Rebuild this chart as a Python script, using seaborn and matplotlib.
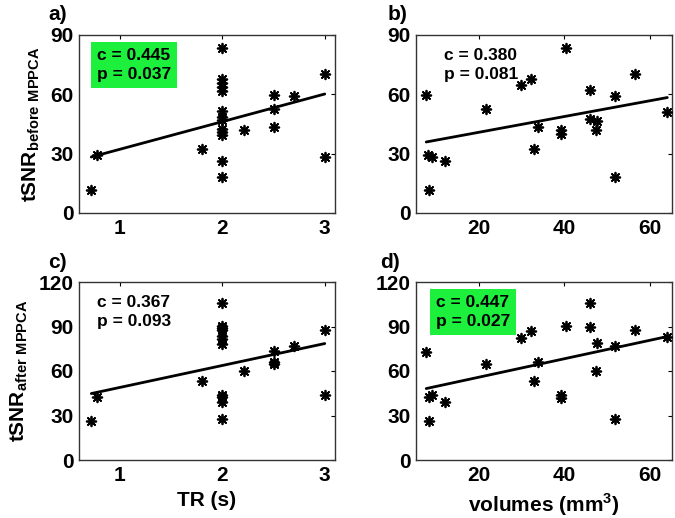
import matplotlib
matplotlib.use('Agg')
import matplotlib.pyplot as plt
import seaborn as sns
import numpy as np

# values
# panel a: TR vs tSNR before MPPCA
tr_a = [0.72, 0.78, 1.80, 2, 2, 2, 2, 2, 2, 2, 2, 2, 2, 2, 2, 2,
        2.21, 2.5, 2.5, 2.5, 2.7, 3, 3]
snr_a = [11.8, 29.2, 32.6, 83.6, 67.6, 65.9, 63.9, 61.8, 51.5, 48.6, 47.0, 42.7,
         41.0, 39.4, 26.4, 18.4, 42.2, 59.5, 52.5, 43.4, 59.0, 70.1, 28.4]

# panel b: volume vs tSNR before MPPCA
vol_b = [7.6, 8.0, 9.0, 8.2, 12.0, 21.6, 29.9, 32.1, 32.8, 33.8, 39.2, 39.2,
         40.4, 46.0, 45.9, 47.6, 47.5, 51.9, 51.9, 56.5, 64.1]
snr_b = [59.5, 29.4, 28.4, 11.8, 26.5, 52.4, 64.7, 67.6, 32.6, 43.4, 42.2, 39.7,
         83.6, 62.2, 47.6, 46.5, 42.2, 59.0, 18.4, 70.1, 51.2]

# panel c: TR vs tSNR after MPPCA
tr_c = [0.72, 0.78, 1.80, 2, 2, 2, 2, 2, 2, 2, 2, 2, 2, 2,
        2.21, 2.5, 2.5, 2.5, 2.7, 3, 3]
snr_c = [26.0, 42.7, 53.2, 105.9, 90.3, 89.0, 87.4, 83.4, 81.4, 78.5, 43.9, 42.3,
         39.0, 27.6, 59.7, 73.5, 66.2, 64.6, 77.1, 87.8, 43.9]

# panel d: volume vs tSNR after MPPCA
vol_d = [7.6, 8.2, 8.2, 9.0, 12.0, 21.6, 29.9, 32.1, 32.8, 33.8, 39.2, 39.2,
         40.4, 46.0, 45.9, 47.6, 47.5, 51.9, 51.9, 56.5, 64.1]
snr_d = [73.1, 26.0, 42.7, 43.9, 39.0, 64.8, 82.2, 86.9, 53.2, 66.2, 43.5, 42.0,
         90.3, 105.9, 89.4, 78.7, 59.7, 77.1, 27.6, 87.8, 82.7]

stats = [('c = 0.445', 'p = 0.037'), ('c = 0.380', 'p = 0.081'),
         ('c = 0.367', 'p = 0.093'), ('c = 0.447', 'p = 0.027')]
highlight = [True, False, False, True]
panel_names = ['a)', 'b)', 'c)', 'd)']

sns.set_style('white')
plt.rcParams['font.family'] = ['Liberation Sans', 'DejaVu Sans']
plt.rcParams['font.weight'] = 'bold'
plt.rcParams['text.color'] = 'black'
plt.rcParams['axes.labelcolor'] = 'black'
plt.rcParams['mathtext.fontset'] = 'custom'
plt.rcParams['mathtext.bf'] = 'Liberation Sans:bold'
plt.rcParams['mathtext.rm'] = 'Liberation Sans:bold'

W, H = 675, 518
fig = plt.figure(figsize=(W / 100, H / 100), dpi=100)
fig.patch.set_facecolor('white')


def px_axes(left, top, right, bottom):
    return fig.add_axes([left / W, 1 - bottom / H, (right - left) / W, (bottom - top) / H])


ax_a = px_axes(79, 35, 335, 213)
ax_b = px_axes(416, 35, 672, 213)
ax_c = px_axes(79, 282, 335, 460)
ax_d = px_axes(416, 282, 672, 460)
axes = [ax_a, ax_b, ax_c, ax_d]

data = [(tr_a, snr_a), (vol_b, snr_b), (tr_c, snr_c), (vol_d, snr_d)]
text_x = [0.07, 0.11, 0.07, 0.078]
star = (8, 2, 0)

for i, (ax, (xs, ys)) in enumerate(zip(axes, data)):
    sns.regplot(
        x=np.array(xs), y=np.array(ys), ax=ax, ci=None, color='black',
        marker=star,
        scatter_kws={'s': 48, 'linewidths': 1.3, 'alpha': 1, 'zorder': 3},
        line_kws={'linewidth': 2.0, 'color': 'black', 'zorder': 2},
    )
    ax.set_xlabel('')
    ax.set_ylabel('')
    for sp in ax.spines.values():
        sp.set_color('#333333')
        sp.set_linewidth(1.0)
    ax.tick_params(direction='in', length=3, width=0.8, top=True, right=True,
                   labelsize=15, pad=4, colors='black')
    for lab in ax.get_xticklabels() + ax.get_yticklabels():
        lab.set_fontweight('bold')

    # the correlation text, green box for significant ones
    bbox = None
    if highlight[i]:
        bbox = dict(boxstyle='square,pad=0.35', facecolor='#1cf03c', edgecolor='none')
    ax.text(text_x[i], 0.925, stats[i][0] + '\n' + stats[i][1],
            transform=ax.transAxes, ha='left', va='top', fontsize=12.5,
            fontweight='bold', linespacing=1.3, bbox=bbox, zorder=4)

for ax in (ax_a, ax_c):
    ax.set_xlim(0.6, 3.1)
    ax.set_xticks([1, 2, 3])
for ax in (ax_b, ax_d):
    ax.set_xlim(5.2, 65.2)
    ax.set_xticks([20, 40, 60])
for ax in (ax_a, ax_b):
    ax.set_ylim(0, 90)
    ax.set_yticks([0, 30, 60, 90])
for ax in (ax_c, ax_d):
    ax.set_ylim(0, 120)
    ax.set_yticks([0, 30, 60, 90, 120])
for ax in axes:
    for lab in ax.get_xticklabels() + ax.get_yticklabels():
        lab.set_fontweight('bold')

ax_c.set_xlabel('TR (s)', fontsize=15, fontweight='bold', labelpad=5)
ax_d.set_xlabel(r'volumes (mm$^{\mathbf{3}}$)', fontsize=15, fontweight='bold', labelpad=5)
ax_a.set_ylabel(r'tSNR$_{\mathbf{before\ MPPCA}}$', fontsize=15, fontweight='bold', labelpad=6)
ax_c.set_ylabel(r'tSNR$_{\mathbf{after\ MPPCA}}$', fontsize=15, fontweight='bold', labelpad=6)

for name, (x, y) in zip(panel_names, [(48, 14), (388, 14), (48, 262), (380, 262)]):
    fig.text(x / W, 1 - y / H, name, fontsize=15, fontweight='bold', ha='left', va='center')

fig.savefig('out.png', dpi=100, facecolor='white')
